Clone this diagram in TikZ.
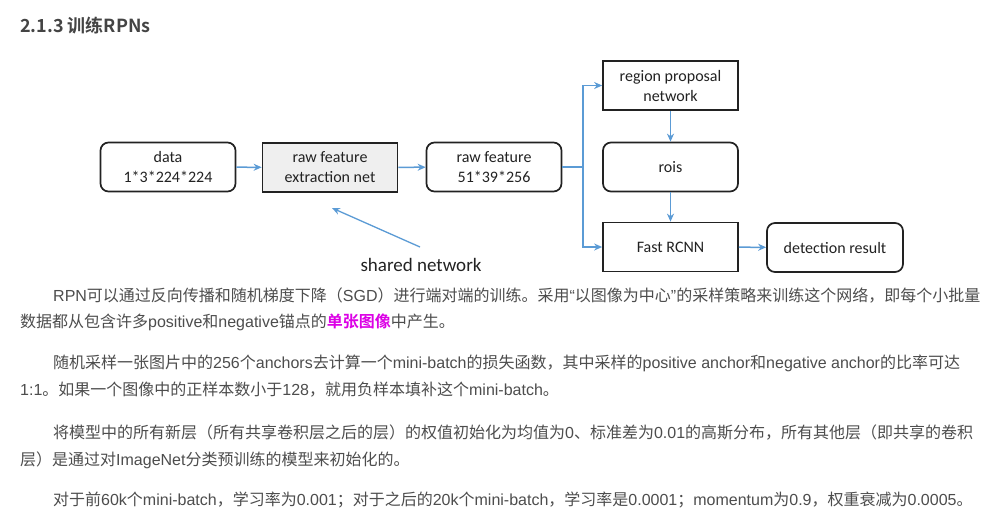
\documentclass[tikz,border=0pt]{standalone}
\usepackage{fontspec}
\usetikzlibrary{arrows.meta}
\newfontfamily\cjk{Noto Sans CJK SC}
\newfontfamily\cjkb{Noto Sans CJK SC Bold}
\newfontfamily\lat{Liberation Sans}
\newfontfamily\carl{Carlito}
\newcommand\EN[1]{{\lat #1}}
\definecolor{bodytxt}{HTML}{4D4D4D}
\definecolor{headtxt}{HTML}{444444}
\definecolor{arrblue}{HTML}{5B9BD5}
\definecolor{boxline}{HTML}{222222}
\definecolor{boxfill}{HTML}{EFEFEF}
\definecolor{linkmag}{RGB}{220,0,230}
\tikzset{
  box/.style={draw=boxline, line width=1.7pt, minimum width=135pt, minimum height=49pt,
    align=center, text=boxline, inner sep=2pt, font=\carl\fontsize{16}{20}\selectfont},
  rbox/.style={box, rounded corners=8pt},
  arr/.style={draw=arrblue, line width=1.5pt, -{Stealth[length=8pt,width=7pt]}},
  plain/.style={draw=arrblue, line width=1.5pt},
  bodyline/.style={anchor=base west, inner sep=0pt, text=bodytxt, font=\cjk\fontsize{16}{20}\selectfont},
}
\begin{document}
\begin{tikzpicture}[x=1pt,y=-1pt]
\useasboundingbox[fill=white] (0,0) rectangle (1001,531);

% heading
\node[anchor=base west, inner sep=0pt, text=headtxt, font=\cjkb\fontsize{18}{22}\selectfont] (head) at (20,32) {2.1.3 训练RPNs};

% diagram boxes
\node[rbox] (data) at (168,167) {data\\1*3*224*224};
\node[box, fill=boxfill] (ext) at (330,167.5) {raw feature\\extraction net};
\node[rbox] (rf) at (494,167) {raw feature\\51*39*256};
\node[box] (rpn) at (670.5,85.5) {region proposal\\network};
\node[rbox] (rois) at (670.5,167) {rois};
\node[box] (frcnn) at (670.5,247) {Fast RCNN};
\node[rbox, minimum width=136pt] (det) at (835,247.5) {detection result};

% connectors
\draw[arr] (data) -- (ext);
\draw[arr] (ext) -- (rf);
\coordinate (j) at (583,167);
\draw[plain] (rf.east) -- (j);
\draw[arr] (j) |- (rpn.west);
\draw[arr] (j) |- (frcnn.west);
\draw[arr] (rpn) -- (rois);
\draw[arr] (rois) -- (frcnn);
\draw[arr] (frcnn) -- (det);

% shared network
\node[inner sep=0pt, text=boxline, font=\carl\fontsize{19}{22}\selectfont] (shared) at (421,265) {shared network};
\coordinate (s1) at (420,247);
\coordinate (s2) at (332,208);
\draw[arr, line width=1.3pt] (s1) -- (s2);

% body text
\node[bodyline] (p1a) at (53,301) {\EN{RPN}可以通过反向传播和随机梯度下降（\EN{SGD}）进行端对端的训练。采用\EN{“}以图像为中心\EN{”}的采样策略来训练这个网络，即每个小批量};
\node[bodyline] (p1b) at (20,327) {数据都从包含许多\EN{positive}和\EN{negative}锚点的{\cjkb\color{linkmag}单张图像}中产生。};
\node[bodyline] (p2a) at (53,368) {随机采样一张图片中的\EN{256}个\EN{anchors}去计算一个\EN{mini-batch}的损失函数，其中采样的\EN{positive anchor}和\EN{negative anchor}的比率可达};
\node[bodyline] (p2b) at (20,395) {\EN{1:1}。如果一个图像中的正样本数小于\EN{128}，就用负样本填补这个\EN{mini-batch}。};
\node[bodyline] (p3a) at (53,438) {将模型中的所有新层（所有共享卷积层之后的层）的权值初始化为均值为\EN{0}、标准差为\EN{0.01}的高斯分布，所有其他层（即共享的卷积};
\node[bodyline] (p3b) at (20,465) {层）是通过对\EN{ImageNet}分类预训练的模型来初始化的。};
\node[bodyline] (p4a) at (53,505) {对于前\EN{60k}个\EN{mini-batch}，学习率为\EN{0.001}；对于之后的\EN{20k}个\EN{mini-batch}，学习率是\EN{0.0001}；\EN{momentum}为\EN{0.9}，权重衰减为\EN{0.0005}。};
\end{tikzpicture}
\end{document}
